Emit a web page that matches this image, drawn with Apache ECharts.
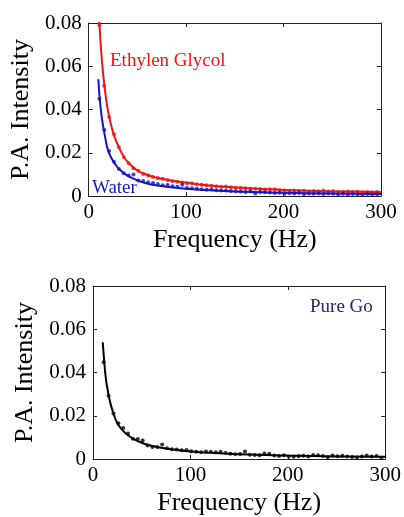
<!DOCTYPE html>
<html>
<head>
<meta charset="utf-8">
<script src="https://cdn.jsdelivr.net/npm/echarts@6/dist/echarts.min.js"></script>
<style>html,body{margin:0;padding:0;background:#fff;}#c{width:404px;height:517px;}</style>
</head>
<body>
<div id="c"></div>
<script>
// Measured frequencies (Hz) of the data dots
var freqs = [11,16,21,26,31,36,41,46,51,56,61,66,71,76,81,86,91,96,101,106,111,116,121,126,131,136,141,146,151,156,161,166,171,176,181,186,191,196,201,206,211,216,221,226,231,236,241,246,251,256,261,266,271,276,281,286,291,296];

var glycolDots = [0.079,0.051,0.0365,0.0285,0.0225,0.018,0.0152,0.0128,0.0117,0.0102,0.0095,0.0088,0.0083,0.0080,0.0074,0.0068,0.0066,0.0063,0.0058,0.0059,0.0054,0.0052,0.0050,0.0047,0.0045,0.0043,0.0044,0.0040,0.0038,0.0037,0.0036,0.0033,0.0034,0.0032,0.0030,0.0031,0.0031,0.0027,0.0026,0.0024,0.0025,0.0023,0.0024,0.0021,0.0023,0.0022,0.0026,0.0021,0.0023,0.0020,0.0019,0.0021,0.0018,0.0020,0.0017,0.0018,0.0016,0.0019];

var waterDots = [0.045,0.0305,0.0208,0.0158,0.0125,0.0105,0.0095,0.0099,0.0072,0.0069,0.0064,0.0060,0.0055,0.0050,0.0051,0.0045,0.0043,0.0052,0.0037,0.0036,0.0033,0.0031,0.0029,0.0030,0.0027,0.0026,0.0025,0.0023,0.0022,0.0021,0.0018,0.0022,0.0012,0.0019,0.0017,0.0016,0.0014,0.0015,0.0010,0.0013,0.0012,0.0014,0.0008,0.0011,0.0010,0.0012,0.0009,0.0011,0.0010,0.0008,0.0010,0.0007,0.0009,0.0008,0.0006,0.0009,0.0007,0.0008];

var goDots = [0.0447,0.0293,0.021,0.0165,0.0143,0.0118,0.0094,0.0092,0.0086,0.0063,0.0056,0.0055,0.0067,0.0050,0.0045,0.0044,0.0040,0.0042,0.0036,0.0034,0.0031,0.0035,0.0033,0.0031,0.0034,0.0028,0.0024,0.0022,0.0023,0.0035,0.0020,0.0019,0.0017,0.0025,0.0024,0.0016,0.0014,0.0017,0.0012,0.0010,0.0013,0.0015,0.0011,0.0018,0.0017,0.0014,0.0008,0.0016,0.0013,0.0015,0.0012,0.0009,0.0007,0.0011,0.0016,0.0012,0.0014,0.0005];

// Fitted curves (read at selected frequencies)
var fitFreqs = [10,11,13,15,17,20,25,30,35,40,50,60,70,80,100,120,150,200,250,300];
var glycolFit = [0.086,0.080,0.066,0.056,0.048,0.039,0.0295,0.0235,0.019,0.0158,0.0118,0.0098,0.0085,0.0075,0.0062,0.0050,0.0039,0.0028,0.0022,0.0018];
var waterFit  = [0.054,0.047,0.038,0.032,0.027,0.021,0.0163,0.0131,0.011,0.0094,0.0072,0.0058,0.0049,0.0043,0.0034,0.0028,0.0021,0.0015,0.0011,0.0009];
var goFit     = [0.054,0.048,0.038,0.032,0.0275,0.0225,0.0165,0.0135,0.0113,0.0097,0.0075,0.0061,0.0052,0.0045,0.0035,0.0029,0.0022,0.0016,0.0012,0.0010];

var xTicks = [0,100,200,300];
var yTicks = [0,0.02,0.04,0.06,0.08];

function pairs(xs, ys){ return xs.map(function(x,i){return [x, ys[i]];}); }

var FONT = 'Liberation Serif';
var axisLine = {show:true, onZero:false, lineStyle:{color:'#222', width:1}};
var tick = {show:true, inside:true, length:4, lineStyle:{color:'#222', width:1}};

function xAxes(gi){
  return [
    {gridIndex:gi, type:'value', min:xTicks[0], max:xTicks[xTicks.length-1], interval:100, position:'bottom',
     axisLine:axisLine, axisTick:tick, splitLine:{show:false},
     axisLabel:{fontFamily:FONT, fontSize:21, color:'#000', margin:6},
     name:'Frequency (Hz)', nameLocation:'middle', nameGap:31,
     nameTextStyle:{fontFamily:FONT, fontSize:26, color:'#000'}},
    {gridIndex:gi, type:'value', min:0, max:300, interval:100, position:'top',
     axisLine:axisLine, axisTick:tick, axisLabel:{show:false}, splitLine:{show:false}}
  ];
}
function yAxes(gi, gap){
  return [
    {gridIndex:gi, type:'value', min:yTicks[0], max:yTicks[yTicks.length-1], interval:0.02, position:'left',
     axisLine:axisLine, axisTick:tick, splitLine:{show:false},
     axisLabel:{fontFamily:FONT, fontSize:21, color:'#000', margin:7},
     name:'P.A. Intensity', nameLocation:'middle', nameGap:gap, nameRotate:90,
     nameTextStyle:{fontFamily:FONT, fontSize:26, color:'#000'}},
    {gridIndex:gi, type:'value', min:0, max:0.08, interval:0.02, position:'right',
     axisLine:axisLine, axisTick:tick, axisLabel:{show:false}, splitLine:{show:false}}
  ];
}

var xa = xAxes(0).concat(xAxes(1));
var ya = yAxes(0, 52).concat(yAxes(1, 51));

function fitSeries(xi, yi, xs, ys, color){
  return {type:'line', xAxisIndex:xi, yAxisIndex:yi, data:pairs(xs, ys), smooth:true,
          showSymbol:false, lineStyle:{color:color, width:2}, clip:true, silent:true, z:2};
}
function dotSeries(xi, yi, xs, ys, color){
  return {type:'scatter', xAxisIndex:xi, yAxisIndex:yi, data:pairs(xs, ys), symbol:'circle',
          symbolSize:4, itemStyle:{color:color}, silent:true, z:3};
}

var RED = '#f01414', BLUE = '#1414c8', BLACK = '#000000';

var chart = echarts.init(document.getElementById('c'), null, {renderer:'canvas'});
chart.setOption({
  backgroundColor:'#ffffff',
  animation:false,
  grid:[
    {left:88, top:23, width:293, height:173},
    {left:93, top:286, width:294, height:174}
  ],
  xAxis: xa,
  yAxis: ya,
  series:[
    fitSeries(0,0,fitFreqs,glycolFit,RED),
    dotSeries(0,0,freqs,glycolDots,RED),
    fitSeries(0,0,fitFreqs,waterFit,BLUE),
    dotSeries(0,0,freqs,waterDots,BLUE),
    fitSeries(2,2,fitFreqs,goFit,BLACK),
    dotSeries(2,2,freqs,goDots,BLACK)
  ],
  graphic:[
    {type:'text', left:110, top:52, style:{text:'Ethylen Glycol', fill:RED, font:'19px "Liberation Serif"'}},
    {type:'text', left:92, top:179, style:{text:'Water', fill:BLUE, font:'19px "Liberation Serif"'}, z:10},
    {type:'text', left:310, top:298, style:{text:'Pure Go', fill:'#1c2a70', font:'19px "Liberation Serif"'}}
  ]
});
</script>
</body>
</html>
